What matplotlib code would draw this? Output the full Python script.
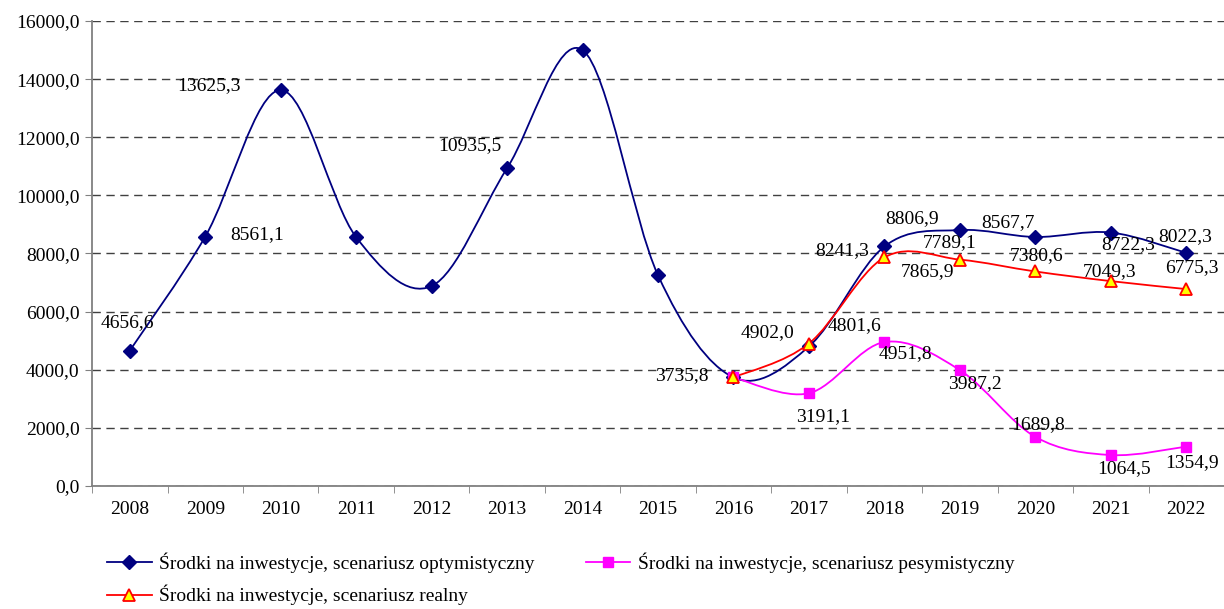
import matplotlib
matplotlib.use("Agg")
import matplotlib.pyplot as plt
from matplotlib.path import Path
from matplotlib.patches import PathPatch
from matplotlib.lines import Line2D

years = ["2008", "2009", "2010", "2011", "2012", "2013", "2014", "2015",
         "2016", "2017", "2018", "2019", "2020", "2021", "2022"]
optimistic = [4656.6, 8580.0, 13625.3, 8561.1, 6880.0, 10935.5, 15000.0, 7250.0,
              3735.8, 4801.6, 8241.3, 8806.9, 8567.7, 8722.3, 8022.3]
pess_years = years[8:]
pessimistic = [3735.8, 3191.1, 4951.8, 3987.2, 1689.8, 1064.5, 1354.9]
real_years = years[8:]
realistic = [3735.8, 4902.0, 7865.9, 7789.1, 7380.6, 7049.3, 6775.3]

opt_labels = ["4656,6", "8561,1", "13625,3", None, None, "10935,5", None, None,
              "3735,8", "4801,6", "8241,3", "8806,9", "8567,7", "8722,3", "8022,3"]
pes_labels = [None, "3191,1", "4951,8", "3987,2", "1689,8", "1064,5", "1354,9"]
real_labels = [None, "4902,0", "7865,9", "7789,1", "7380,6", "7049,3", "6775,3"]

# label offsets in pixels (dx, dy up), tuned by eye
opt_off = [(-2, 28), (52, 2), (-72, 4), None, None, (-37, 23), None, None,
           (-52, 2), (46, 21), (-42, -4), (-48, 11), (-27, 14), (17, -12), (-1, 16)]
pes_off = [None, (14, -23), (21, -12), (15, -13), (3, 12), (13, -14), (6, -16)]
real_off = [None, (-41, 11), (43, -14), (-10, 17), (1, 16), (-1, 10), (6, 21)]

SERIF = ["Liberation Serif", "DejaVu Serif"]
plt.rcParams["font.family"] = SERIF


def smooth_path(xs, ys):
    # Excel-like smoothed line: Catmull-Rom segments as cubic Bezier curves
    n = len(xs)
    verts = [(xs[0], ys[0])]
    codes = [Path.MOVETO]
    for i in range(n - 1):
        p0 = (xs[max(i - 1, 0)], ys[max(i - 1, 0)])
        p1 = (xs[i], ys[i])
        p2 = (xs[i + 1], ys[i + 1])
        p3 = (xs[min(i + 2, n - 1)], ys[min(i + 2, n - 1)])
        c1 = (p1[0] + (p2[0] - p0[0]) / 6, p1[1] + (p2[1] - p0[1]) / 6)
        c2 = (p2[0] - (p3[0] - p1[0]) / 6, p2[1] - (p3[1] - p1[1]) / 6)
        verts += [c1, c2, p2]
        codes += [Path.CURVE4] * 3
    return Path(verts, codes)


fig = plt.figure(figsize=(12.24, 6.09), dpi=100)
ax = fig.add_axes([0.0752, 0.202, 0.9248, 0.7635])

series = [
    (years, optimistic, opt_labels, opt_off, "#000080",
     dict(marker="D", ms=7.5, mfc="#000080", mec="#000080"),
     "Środki na inwestycje, scenariusz optymistyczny"),
    (pess_years, pessimistic, pes_labels, pes_off, "#FF00FF",
     dict(marker="s", ms=7.5, mfc="#FF00FF", mec="#FF00FF"),
     "Środki na inwestycje, scenariusz pesymistyczny"),
    (real_years, realistic, real_labels, real_off, "#FF0000",
     dict(marker="^", ms=8.5, mfc="#FFFF00", mec="#FF0000", mew=1.3),
     "Środki na inwestycje, scenariusz realny"),
]

handles = []
for yrs, vals, labs, offs, color, mk, name in series:
    xs = [years.index(y) for y in yrs]
    ax.add_patch(PathPatch(smooth_path(xs, vals), fill=False, edgecolor=color,
                           lw=1.3, zorder=3))
    ax.plot(xs, vals, ls="none", zorder=4, **mk)
    handles.append(Line2D([], [], color=color, lw=1.3, **mk))
    for x, v, lab, off in zip(xs, vals, labs, offs):
        if lab is None:
            continue
        ax.annotate(lab, (x, v), xytext=off, textcoords="offset pixels",
                    ha="center", va="center", fontsize=14, color="black",
                    zorder=5)

ax.set_xlim(-0.5, len(years) - 0.5)
ax.set_ylim(0, 16000)
ax.set_yticks(range(0, 16001, 2000))
ax.set_yticklabels([f"{v},0" for v in range(0, 16001, 2000)], fontsize=14)
ax.set_xticks(range(len(years)))
ax.set_xticklabels(years, fontsize=14)
ax.set_xticks([i - 0.5 for i in range(len(years) + 1)], minor=True)
ax.tick_params(axis="x", which="major", length=0, pad=11)
ax.tick_params(axis="x", which="minor", length=5, color="#808080")
ax.tick_params(axis="y", length=5, color="#808080", pad=4)
ax.yaxis.grid(True, ls=(0, (6, 4)), color="#404040", lw=1)
ax.set_axisbelow(True)
for s in ("top", "right"):
    ax.spines[s].set_visible(False)
for s in ("left", "bottom"):
    ax.spines[s].set_color("#808080")
    ax.spines[s].set_linewidth(1.3)

fig.legend([handles[0], handles[2], handles[1]],
           [series[0][6], series[2][6], series[1][6]],
           ncol=2, loc="upper left", bbox_to_anchor=(0.0874, 0.093),
           frameon=False, fontsize=14, handlelength=2.3, handletextpad=0.4,
           columnspacing=2.6, labelspacing=0.62, borderaxespad=0, borderpad=0)

fig.savefig("out.png", dpi=100)
